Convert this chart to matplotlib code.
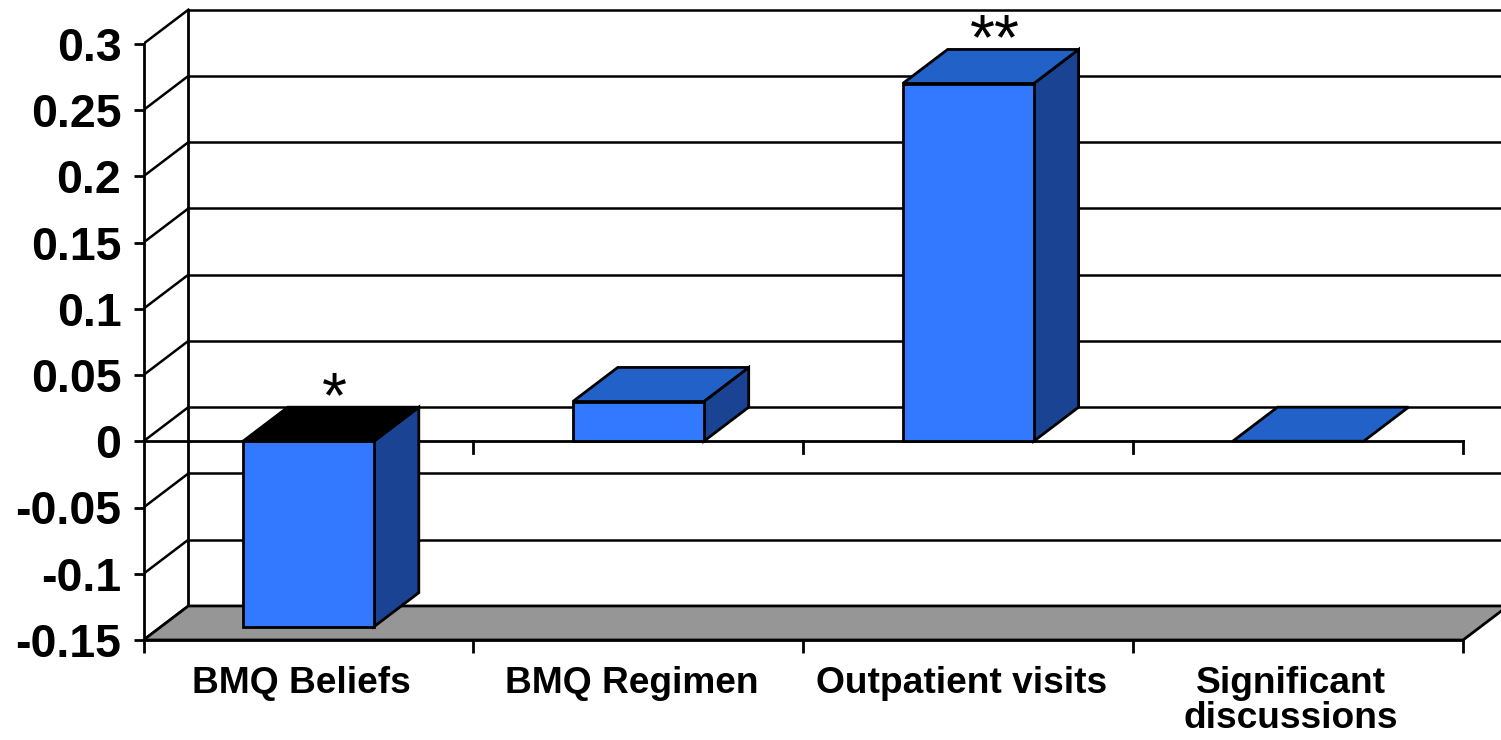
import matplotlib.pyplot as plt
import matplotlib.transforms as mtransforms
from matplotlib.patches import Polygon

# ---- data ----
categories = ["BMQ Beliefs", "BMQ Regimen", "Outpatient visits", "Significant\ndiscussions"]
values = [-0.14, 0.03, 0.27, 0.0]
stars = ["*", "", "**", ""]
yticks = [0.3, 0.25, 0.2, 0.15, 0.1, 0.05, 0, -0.05, -0.1, -0.15]
ytick_labels = ["0.3", "0.25", "0.2", "0.15", "0.1", "0.05", "0", "-0.05", "-0.1", "-0.15"]

# ---- look ----
FRONT = "#3379FF"
TOP = "#2262C8"
SIDE = "#1B4393"
FLOOR = "#969696"
LW = 2.0
BAR_W = 0.397
DX, DY = 0.136, 0.0257   # depth offset in data units
PXX, PXY = 329.9, 1325.0

plt.rcParams["font.family"] = ["Liberation Sans", "DejaVu Sans"]

fig = plt.figure(figsize=(15.01, 7.40), dpi=100)
ax = fig.add_axes([143.5 / 1501, 100 / 740, (1501 - 143.5) / 1501, 640 / 740])
ax.set_xlim(-0.5, -0.5 + (1501 - 143.5) / PXX)
ax.set_ylim(-0.15, -0.15 + 640 / PXY)

ymin, ymax = min(yticks), max(yticks)
x0, x1 = -0.5, len(categories) - 0.5

# back wall gridlines + side wall
for v in yticks:
    ax.plot([x0 + DX, x1 + DX], [v + DY, v + DY], color="black", lw=1.8, zorder=1)
    ax.plot([x0, x0 + DX], [v, v + DY], color="black", lw=1.8, zorder=1)
ax.plot([x0 + DX, x0 + DX], [ymin + DY, ymax + DY], color="black", lw=LW, zorder=1)

# floor
floor = Polygon([(x0, ymin), (x1, ymin), (x1 + DX, ymin + DY), (x0 + DX, ymin + DY)],
                closed=True, facecolor=FLOOR, edgecolor="black", lw=LW, zorder=2)
ax.add_patch(floor)

# zero line on front with ticks
ax.plot([x0, x1], [0, 0], color="black", lw=LW, zorder=3)
for b in range(1, len(categories) + 1):
    ax.plot([b - 0.5, b - 0.5], [0, -12 / PXY], color="black", lw=LW, zorder=3)

# bars
for i, v in enumerate(values):
    l, r = i - BAR_W / 2, i + BAR_W / 2
    lo, hi = min(0, v), max(0, v)
    if hi > lo:
        ax.add_patch(Polygon([(r, lo), (r + DX, lo + DY), (r + DX, hi + DY), (r, hi)],
                             closed=True, facecolor=SIDE, edgecolor="black", lw=LW, zorder=4))
        ax.add_patch(Polygon([(l, lo), (r, lo), (r, hi), (l, hi)],
                             closed=True, facecolor=FRONT, edgecolor="black", lw=LW, zorder=5))
    top_col = "black" if v < 0 else TOP
    ax.add_patch(Polygon([(l, hi), (r, hi), (r + DX, hi + DY), (l + DX, hi + DY)],
                         closed=True, facecolor=top_col, edgecolor="black", lw=LW, zorder=5))
    if stars[i]:
        ax.annotate(stars[i], (i + 0.08, hi + DY), xytext=(0, -7), textcoords="offset points",
                    ha="center", va="baseline", fontsize=46, zorder=6)

# axes
for s in ["top", "right"]:
    ax.spines[s].set_visible(False)
ax.spines["left"].set_bounds(ymin, ymax)
ax.spines["bottom"].set_bounds(x0, x1)
ax.spines["left"].set_linewidth(LW)
ax.spines["bottom"].set_linewidth(LW)
ax.spines["left"].set_zorder(3)
ax.spines["bottom"].set_zorder(3)

ax.set_yticks(yticks)
ax.set_yticklabels(ytick_labels)
ax.tick_params(axis="y", direction="out", length=7, width=LW, pad=9, labelsize=33.5)
for t in ax.get_yticklabels():
    t.set_fontweight("bold")

ax.set_xticks([b - 0.5 for b in range(len(categories) + 1)])
ax.set_xticklabels([])
ax.set_xticks(range(len(categories)), minor=True)
ax.set_xticklabels(categories, minor=True, fontsize=26.7, fontweight="bold", linespacing=1.0)
ax.tick_params(axis="x", which="major", direction="out", length=9, width=LW)
ax.tick_params(axis="x", which="minor", length=0, pad=19)
shift = mtransforms.ScaledTranslation(-0.07, 0, fig.dpi_scale_trans)
for t in ax.get_xticklabels(minor=True):
    t.set_transform(t.get_transform() + shift)

fig.savefig("out.png", dpi=100)
